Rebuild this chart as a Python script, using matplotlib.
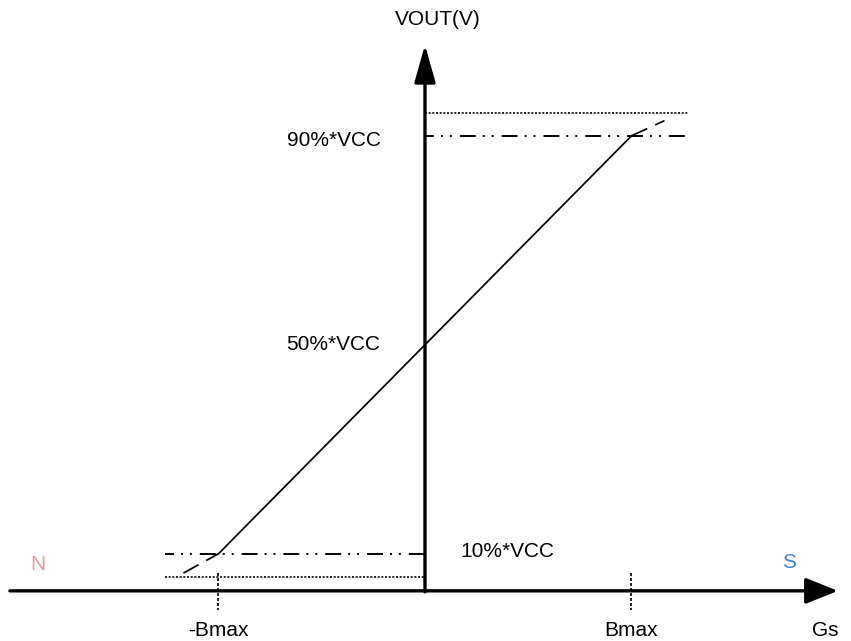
import matplotlib.pyplot as plt

# field in units of Bmax, output in fractions of VCC
b_solid = [-1.0, 1.0]
v_solid = [0.1, 0.9]
b_low_tail = [-1.17, -1.0]
v_low_tail = [0.063, 0.1]
b_high_tail = [1.0, 1.16]
v_high_tail = [0.9, 0.929]

levels = [0.1, 0.5, 0.9]
level_labels = ['10%*VCC', '50%*VCC', '90%*VCC']
rail_low, rail_high = 0.056, 0.944
ticks = [-1.0, 1.0]
tick_labels = ['-Bmax', 'Bmax']

axis_y = 0.029

plt.rcParams['font.family'] = ['Liberation Sans', 'DejaVu Sans']
fig = plt.figure(figsize=(8.51, 6.41), dpi=100)
ax = fig.add_axes([0, 0, 1, 1])
ax.set_xlim(-2.058, 2.063)
ax.set_ylim(-0.067, 1.160)
ax.axis('off')

# axes with arrows
ax.annotate('', xy=(2.0, axis_y), xytext=(-2.01, axis_y),
            arrowprops=dict(arrowstyle='-|>,head_length=2.0,head_width=0.8',
                            lw=2.4, color='black', shrinkA=0, shrinkB=0))
ax.annotate('', xy=(0, 1.074), xytext=(0, axis_y - 0.002),
            arrowprops=dict(arrowstyle='-|>,head_length=2.3,head_width=0.65',
                            lw=2.4, color='black', shrinkA=0, shrinkB=0))

# transfer curve
ax.plot(b_solid, v_solid, color='black', lw=1.25)
ax.plot(b_low_tail, v_low_tail, color='black', lw=1.25, dashes=(10, 5))
ax.plot(b_high_tail, v_high_tail, color='black', lw=1.25, dashes=(10, 5))

# reference levels (pattern given per unit linewidth)
dash_dot = (3.6, (8.2, 3.6, 1.0, 3.6, 1.0, 4.1))
ax.plot([-1.26, 0], [levels[0], levels[0]], color='black', lw=1.4, linestyle=dash_dot)
ax.plot([0, 1.27], [levels[2], levels[2]], color='black', lw=1.4, linestyle=dash_dot)
ax.plot([-1.26, 0], [rail_low, rail_low], color='black', lw=1.2, dashes=(1.2, 1.0))
ax.plot([0, 1.28], [rail_high, rail_high], color='black', lw=1.2, dashes=(1.2, 1.0))

# tick marks on the field axis
for t in ticks:
    ax.plot([t, t], [0.063, -0.008], color='black', lw=1.2, dashes=(1.8, 1.2))

fs = 15
ax.text(-0.215, levels[2] - 0.008, level_labels[2], ha='right', va='center', fontsize=fs)
ax.text(-0.215, levels[1], level_labels[1], ha='right', va='center', fontsize=fs)
ax.text(0.17, levels[0] + 0.004, level_labels[0], ha='left', va='center', fontsize=fs)
ax.text(0.06, 1.122, 'VOUT(V)', ha='center', va='center', fontsize=fs)
for t, lab in zip(ticks, tick_labels):
    ax.text(t, -0.046, lab, ha='center', va='center', fontsize=fs)
ax.text(1.94, -0.046, 'Gs', ha='center', va='center', fontsize=fs)
ax.text(-1.875, 0.080, 'N', ha='center', va='center', fontsize=fs, color='#e89a9a')
ax.text(1.762, 0.083, 'S', ha='center', va='center', fontsize=fs, color='#3f7fd6')

fig.savefig('out.png', dpi=100)
